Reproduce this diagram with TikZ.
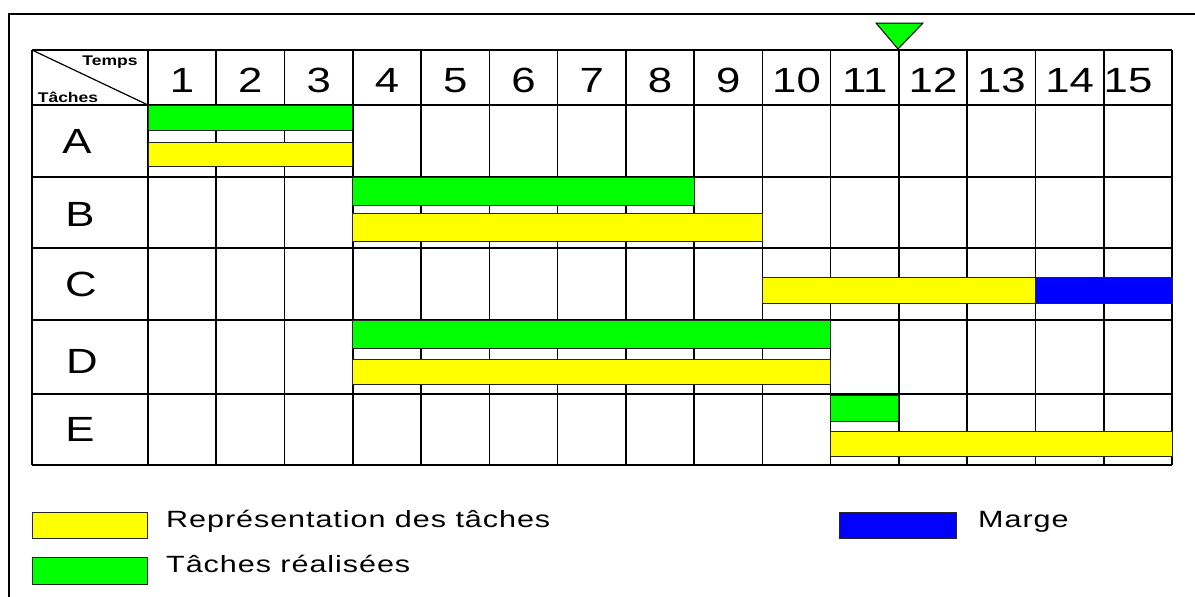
\documentclass[tikz,border=0pt]{standalone}
\usepackage{fontspec}
\newfontfamily\wide[FakeStretch=1.25]{Liberation Sans}
\newfontfamily\legfont[FakeStretch=1.3,LetterSpace=4]{Liberation Sans}
\definecolor{ganttyellow}{HTML}{FFFF00}
\definecolor{ganttgreen}{HTML}{00FF00}
\definecolor{ganttblue}{HTML}{0000FF}
\begin{document}
\begin{tikzpicture}[x=1pt,y=-1pt,
  grid/.style={line width=1.6pt,black},
  bar/.style={draw=black!85,line width=1pt},
  plan/.style={bar,fill=ganttyellow},
  done/.style={bar,fill=ganttgreen},
  slack/.style={bar,fill=ganttblue},
  numlbl/.style={font=\wide\fontsize{35}{35}\selectfont,inner sep=0pt,anchor=base},
  rowlbl/.style={font=\wide\fontsize{35}{35}\selectfont,inner sep=0pt},
  leglbl/.style={font=\legfont\fontsize{23.5}{23.5}\selectfont,inner sep=0pt,anchor=base west},
  headlbl/.style={font=\wide\bfseries\fontsize{14}{14}\selectfont,inner sep=0pt}]
\useasboundingbox (0,0) rectangle (1195,597);
\fill[white] (0,0) rectangle (1195,597);
% outer frame
\draw[line width=1.6pt] (9,600) -- (9,14) -- (1200,14);
\def\cw{68.267}
% grid
\foreach \y in {50,105,177,248,320,394,465}
  \draw[grid] (32,\y) -- (1172,\y);
\draw[grid] (32,50) -- (32,465);
\foreach \k in {0,...,15}
  \draw[grid] ({148+\cw*\k},50) -- ({148+\cw*\k},465);
% header diagonal
\draw[line width=1.2pt] (32,50) -- (148,105);
\node[headlbl] (temps) at (110,62) {Temps};
\node[headlbl] (taches) at (68,97) {Tâches};
% column numbers
\foreach \k in {1,...,14}
  \node[numlbl] (n\k) at ({148+\cw*(\k-0.5)},92) {\k};
\node[numlbl] (n15) at (1128,92) {15};
% row letters
\node[rowlbl] (ra) at (77,141) {A};
\node[rowlbl] (rb) at (80,214) {B};
\node[rowlbl] (rc) at (81,284) {C};
\node[rowlbl] (rd) at (82,361) {D};
\node[rowlbl] (re) at (80,429) {E};
% bars
\draw[done] (148,105) rectangle ({148+\cw*3},130);
\draw[plan] (148,142) rectangle ({148+\cw*3},166);
\draw[done] ({148+\cw*3},177) rectangle ({148+\cw*8},205);
\draw[plan] ({148+\cw*3},213) rectangle ({148+\cw*9},241);
\draw[plan] ({148+\cw*9},277) rectangle ({148+\cw*13},303);
\draw[slack] ({148+\cw*13},277) rectangle ({148+\cw*15},303);
\draw[done] ({148+\cw*3},320) rectangle ({148+\cw*10},348);
\draw[plan] ({148+\cw*3},359) rectangle ({148+\cw*10},384);
\draw[done] ({148+\cw*10},395) rectangle ({148+\cw*11},421);
\draw[plan] ({148+\cw*10},431) rectangle ({148+\cw*15},456);
% current time marker
\draw[fill=ganttgreen,line width=1pt] (876,23) -- (923,23) -- (898,49) -- cycle;
% legend
\draw[plan] (32,512) rectangle (147,538);
\draw[done] (32,557) rectangle (147,584);
\draw[slack] (839,512) rectangle (956,538);
\node[leglbl] (l1) at (166,527) {Représentation des tâches};
\node[leglbl] (l2) at (166,572) {Tâches réalisées};
\node[leglbl] (l3) at (978,527) {Marge};
\end{tikzpicture}
\end{document}
